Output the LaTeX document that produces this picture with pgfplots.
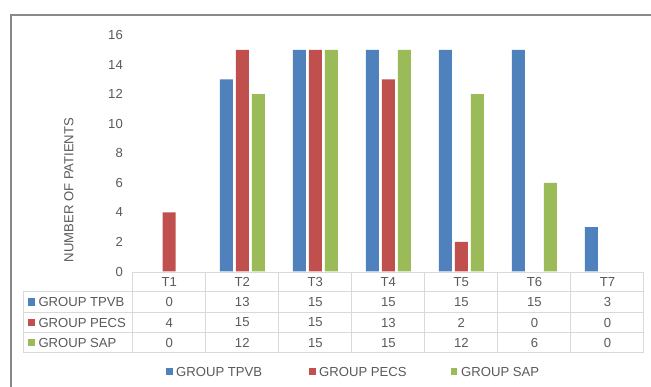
\documentclass[border=0pt]{standalone}
\usepackage{pgfplots}
\pgfplotsset{compat=1.18}
\usepackage{pgfplotstable}
\usepackage{fontspec}
\setmainfont{Liberation Sans}
\definecolor{tpvb}{HTML}{4F81BD}
\definecolor{pecs}{HTML}{C0504D}
\definecolor{sap}{HTML}{9BBB59}
\definecolor{txt}{HTML}{595959}
\definecolor{gridc}{HTML}{D9D9D9}
\definecolor{framec}{HTML}{898989}
\newcommand\cf{\fontsize{13.1pt}{15pt}\selectfont}

\pgfplotstableread{
x tpvb pecs sap
0 0 4 0
1 13 15 12
2 15 15 15
3 15 13 15
4 15 2 12
5 15 0 6
6 3 0 0
}\data

\begin{document}
\begin{tikzpicture}[font=\cf]
\useasboundingbox (0pt,0pt) rectangle (651pt,386pt);
\clip (0pt,0pt) rectangle (651pt,386pt);
\draw[framec, line width=2pt] (11pt,-5pt) -- (11pt,371pt) -- (660pt,371pt);

\begin{axis}[
  at={(132.7pt,114.5pt)}, anchor=south west,
  scale only axis, width=511.3pt, height=236.5pt,
  xmin=-0.5, xmax=6.5, ymin=0, ymax=16,
  ybar=3pt, bar width=13pt,
  axis line style={draw=none},
  xtick=\empty,
  ytick={0,2,...,16},
  major tick length=0pt,
  /pgf/number format/assume math mode=true,
  yticklabel style={font=\cf, text=txt, anchor=east, inner sep=0pt, xshift=-9.7pt},
  clip=false,
  y filter/.expression={y==0 ? nan : y},
  unbounded coords=jump,
]
\addplot[fill=tpvb, draw=none] table[x=x,y=tpvb]{\data};
\addplot[fill=pecs, draw=none] table[x=x,y=pecs]{\data};
\addplot[fill=sap, draw=none] table[x=x,y=sap]{\data};
\end{axis}

\begin{scope}[x=1pt,y=1pt, every node/.style={text=txt, inner sep=0pt}]
% table grid
\draw[gridc, line width=1pt] (132.7,113.7) -- (644,113.7);
\foreach \y in {94.3,73.7,53.3,33.3} \draw[gridc, line width=1pt] (23.3,\y) -- (644,\y);
\foreach \k in {0,...,7} \draw[gridc, line width=1pt] ({132.7+73.04*\k},113.7) -- ({132.7+73.04*\k},33.3);
\draw[gridc, line width=1pt] (23.3,94.3) -- (23.3,33.3);
% header
\foreach \k in {0,...,6} {
  \pgfmathtruncatemacro\n{\k+1}
  \node at ({132.7+73.04*(\k+0.5)},104) {T\n};
}
% values
\foreach \k in {0,...,6} {
  \pgfplotstablegetelem{\k}{tpvb}\of\data
  \node at ({132.7+73.04*(\k+0.5)},84) {\pgfplotsretval};
  \pgfplotstablegetelem{\k}{pecs}\of\data
  \node at ({132.7+73.04*(\k+0.5)},63.5) {\pgfplotsretval};
  \pgfplotstablegetelem{\k}{sap}\of\data
  \node at ({132.7+73.04*(\k+0.5)},43.3) {\pgfplotsretval};
}
% row labels
\fill[tpvb] (27.7,80.5) rectangle (34.7,87.5);
\node[anchor=west] at (38.3,84) {GROUP TPVB};
\fill[pecs] (27.7,60) rectangle (34.7,67);
\node[anchor=west] at (38.3,63.5) {GROUP PECS};
\fill[sap] (27.7,39.8) rectangle (34.7,46.8);
\node[anchor=west] at (38.3,43.3) {GROUP SAP};
% legend
\fill[tpvb] (166.3,10.8) rectangle (173,17.8);
\node[anchor=west] at (176,14.3) {GROUP TPVB};
\fill[pecs] (309.3,10.8) rectangle (316,17.8);
\node[anchor=west] at (319,14.3) {GROUP PECS};
\fill[sap] (450.7,10.8) rectangle (457.4,17.8);
\node[anchor=west] at (461,14.3) {GROUP SAP};
% y label
\node[rotate=90] at (68.8,196) {NUMBER OF PATIENTS};
\end{scope}
\end{tikzpicture}
\end{document}
